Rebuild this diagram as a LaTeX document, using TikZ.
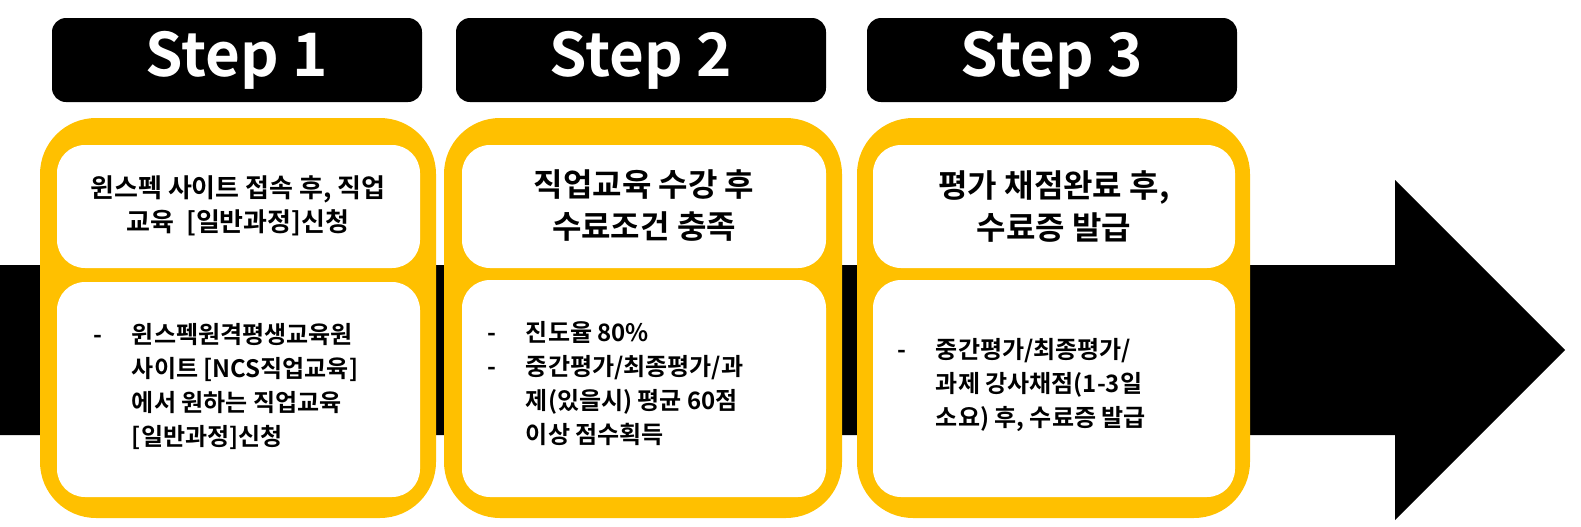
\documentclass[tikz,border=0pt]{standalone}
\usepackage{fontspec}
\newfontfamily\cjkb{Noto Sans CJK KR Bold}
\definecolor{stepyellow}{RGB}{255,192,0}
\begin{document}
\begin{tikzpicture}[x=0.5pt,y=0.5pt,yscale=-1,xscale=1,
	stephead/.style={fill=black,rounded corners=7pt,draw=none},
	outerbox/.style={fill=stepyellow,rounded corners=28pt},
	innerbox/.style={fill=white,rounded corners=14pt},
	steptext/.style={text=white,font=\cjkb\fontsize{30}{30}\selectfont},
	toptext/.style={align=center,font=\cjkb\fontsize{13}{17}\selectfont},
	bigtext/.style={align=center,font=\cjkb\fontsize{16}{21}\selectfont},
	listtext/.style={align=left,anchor=west,font=\cjkb\fontsize{12}{17}\selectfont}]
	\useasboundingbox (0,0) rectangle (1581,526);

	%Shape: Arrow
	\fill (0,265) -- (1395,265) -- (1395,180) -- (1565,350) -- (1395,520) -- (1395,435) -- (0,435) -- cycle ;

	%Shape: Yellow boxes
	\fill [outerbox] (40,118) rectangle (436,518);
	\fill [outerbox] (444,118) rectangle (842,518);
	\fill [outerbox] (857,118) rectangle (1250,518);

	%Shape: White boxes
	\fill [innerbox] (57,145) rectangle (420,268);
	\fill [innerbox] (57,282) rectangle (420,497);
	\fill [innerbox] (462,145) rectangle (826,268);
	\fill [innerbox] (462,280) rectangle (826,497);
	\fill [innerbox] (873,145) rectangle (1235,268);
	\fill [innerbox] (873,280) rectangle (1235,497);

	%Shape: Step heads
	\fill [stephead] (52,18) rectangle (422,102);
	\fill [stephead] (456,18) rectangle (826,102);
	\fill [stephead] (867,18) rectangle (1237,102);

	% Text Node
	\node [steptext] (step1) at (237,60) {Step 1};
	\node [steptext] (step2) at (641,60) {Step 2};
	\node [steptext] (step3) at (1052,60) {Step 3};

	% Text Node
	\node [toptext] (top1) at (238,206) {윈스펙 사이트 접속 후, 직업\\교육 \ [일반과정]신청};
	\node [bigtext] (top2) at (644,206) {직업교육 수강 후\\수료조건 충족};
	\node [bigtext] (top3) at (1054,206) {평가 채점완료 후,\\수료증 발급};

	% Text Node
	\node [listtext] (list1) at (86,388) {\begin{tabular}{@{}l@{\hspace{15pt}}l@{}}
		- & 윈스펙원격평생교육원\\
		& 사이트 [NCS직업교육]\\
		& 에서 원하는 직업교육\\
		& [일반과정]신청\end{tabular}};
	\node [listtext] (list2) at (480,386) {\begin{tabular}{@{}l@{\hspace{15pt}}l@{}}
		- & 진도율 80\%\\
		- & 중간평가/최종평가/과\\
		& 제(있을시) 평균 60점\\
		& 이상 점수획득\end{tabular}};
	\node [listtext] (list3) at (890,386) {\begin{tabular}{@{}l@{\hspace{15pt}}l@{}}
		- & 중간평가/최종평가/\\
		& 과제 강사채점(1-3일\\
		& 소요) 후, 수료증 발급\end{tabular}};

\end{tikzpicture}
\end{document}
